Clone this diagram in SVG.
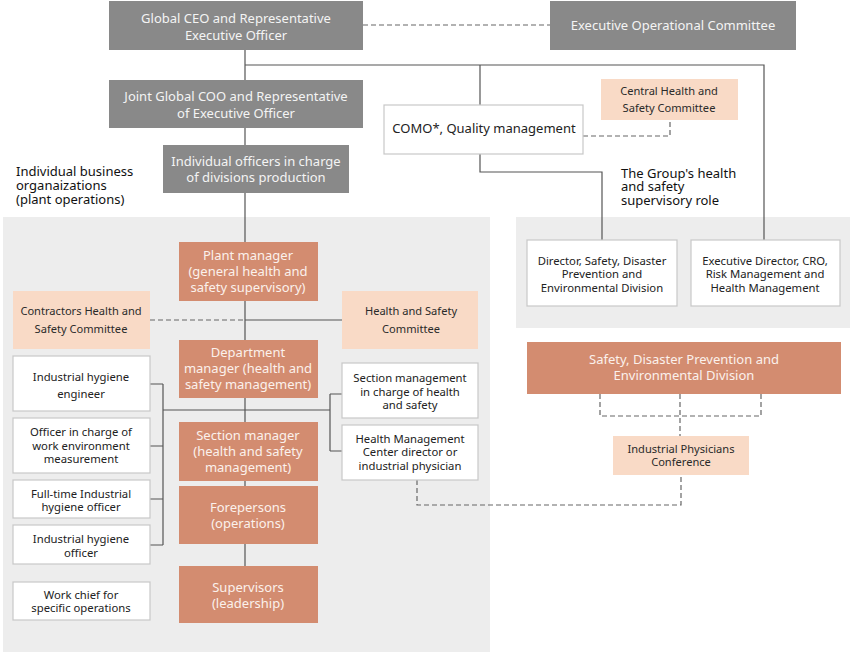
<svg xmlns="http://www.w3.org/2000/svg" width="850" height="652" viewBox="0 0 850 652">
<style>
text{font-family:"Noto Sans","DejaVu Sans",sans-serif;font-size:12.5px;text-anchor:middle}
.g rect{fill:#898989}
.g text{fill:#f4f4f4;font-size:13px}
.s rect{fill:#d38c70}
.s text{fill:#fbf1ec;font-size:13px}
.p rect{fill:#f9dac6}
.p text{fill:#2a2a2a;font-size:11.1px}
.w rect{fill:#fff;stroke:#c8c8c8;stroke-width:1.2}
.w text{fill:#222;font-size:11.3px}
.lbl{fill:#111;font-size:13px;text-anchor:start}
.ln{fill:none;stroke:#555;stroke-width:1.2}
.dl{fill:none;stroke:#666;stroke-width:1.2;stroke-dasharray:5,3}
</style>
<rect x="3" y="217" width="487" height="435" fill="#ededed"/>
<rect x="516" y="217" width="334" height="111" fill="#ededed"/>
<g id="connectors">
<path class="dl" d="M363 25H550"/>
<path class="ln" d="M245 50V80M245 128V145M245 193V242M245 65H764V240M480 65V105M480 154V172H602V240"/>
<path class="dl" d="M583 136H670V120"/>
<path class="ln" d="M245 301V340M245 320H342M245 398V422M245 481V486M245 544V566"/>
<path class="dl" d="M150 320H245"/>
<path class="ln" d="M150 384H163M150 446H163M150 499H163M150 545H163M163 384V545M163 410H330M330 394V451M330 394H342M330 451H342"/>
<path class="dl" d="M417 480V505H681V475M600 394V416H761V394M680 394V436"/>
</g>
<g id="ceo" class="g"><rect x="109" y="1" width="254" height="49"/><text x="236" y="23">Global CEO and Representative</text><text x="236" y="40">Executive Officer</text></g>
<g id="eoc" class="g"><rect x="550" y="1" width="246" height="49"/><text x="673" y="30">Executive Operational Committee</text></g>
<g id="coo" class="g"><rect x="109" y="80" width="254" height="48"/><text x="236" y="101">Joint Global COO and Representative</text><text x="236" y="118">of Executive Officer</text></g>
<g id="officers" class="g"><rect x="163" y="145" width="186" height="48"/><text x="256" y="166">Individual officers in charge</text><text x="256" y="182">of divisions production</text></g>
<g id="como" class="w"><rect x="384" y="105" width="199" height="49"/><text x="484" y="133" style="font-size:13px">COMO*, Quality management</text></g>
<g id="central" class="p"><rect x="601" y="79" width="137" height="41"/><text x="669" y="95">Central Health and</text><text x="669" y="112">Safety Committee</text></g>
<text class="lbl" x="621" y="178">The Group's health</text>
<text class="lbl" x="621" y="191">and safety</text>
<text class="lbl" x="621" y="205">supervisory role</text>
<text class="lbl" x="16" y="176">Individual business</text>
<text class="lbl" x="16" y="190">organaizations</text>
<text class="lbl" x="16" y="204">(plant operations)</text>
<g id="director" class="w"><rect x="527" y="240" width="150" height="66"/><text x="602" y="265">Director, Safety, Disaster</text><text x="602" y="278">Prevention and</text><text x="602" y="292">Environmental Division</text></g>
<g id="cro" class="w"><rect x="691" y="240" width="149" height="66"/><text x="765" y="265">Executive Director, CRO,</text><text x="765" y="278">Risk Management and</text><text x="765" y="292">Health Management</text></g>
<g id="plant" class="s"><rect x="179" y="242" width="139" height="59"/><text x="248" y="260">Plant manager</text><text x="248" y="276">(general health and</text><text x="248" y="292">safety supervisory)</text></g>
<g id="contractors" class="p"><rect x="13" y="291" width="137" height="58"/><text x="81" y="315">Contractors Health and</text><text x="81" y="333">Safety Committee</text></g>
<g id="hsc" class="p"><rect x="342" y="291" width="136" height="58"/><text x="411" y="315">Health and Safety</text><text x="411" y="333">Committee</text></g>
<g id="dept" class="s"><rect x="179" y="340" width="139" height="58"/><text x="248" y="357">Department</text><text x="248" y="373">manager (health and</text><text x="248" y="389">safety management)</text></g>
<g id="section" class="s"><rect x="179" y="422" width="139" height="59"/><text x="248" y="440">Section manager</text><text x="248" y="456">(health and safety</text><text x="248" y="472">management)</text></g>
<g id="fore" class="s"><rect x="179" y="486" width="139" height="58"/><text x="248" y="512">Forepersons</text><text x="248" y="528">(operations)</text></g>
<g id="super" class="s"><rect x="179" y="566" width="139" height="57"/><text x="248" y="592">Supervisors</text><text x="248" y="608">(leadership)</text></g>
<g id="ihe" class="w"><rect x="13" y="356" width="137" height="55"/><text x="81" y="381">Industrial hygiene</text><text x="81" y="398">engineer</text></g>
<g id="officer" class="w"><rect x="13" y="418" width="137" height="55"/><text x="81" y="436">Officer in charge of</text><text x="81" y="450">work environment</text><text x="81" y="463">measurement</text></g>
<g id="fulltime" class="w"><rect x="13" y="480" width="137" height="38"/><text x="81" y="498">Full-time Industrial</text><text x="81" y="511">hygiene officer</text></g>
<g id="iho" class="w"><rect x="13" y="525" width="137" height="39"/><text x="81" y="543">Industrial hygiene</text><text x="81" y="557">officer</text></g>
<g id="chief" class="w"><rect x="13" y="582" width="137" height="38"/><text x="81" y="599">Work chief for</text><text x="81" y="612">specific operations</text></g>
<g id="secmgmt" class="w"><rect x="342" y="363" width="136" height="55"/><text x="410" y="382">Section management</text><text x="410" y="396">in charge of health</text><text x="410" y="409">and safety</text></g>
<g id="hmc" class="w"><rect x="342" y="425" width="136" height="55"/><text x="410" y="443">Health Management</text><text x="410" y="456">Center director or</text><text x="410" y="470">industrial physician</text></g>
<g id="sdped" class="s"><rect x="527" y="342" width="314" height="52"/><text x="684" y="364">Safety, Disaster Prevention and</text><text x="684" y="380">Environmental Division</text></g>
<g id="ipc" class="p"><rect x="613" y="436" width="136" height="39"/><text x="681" y="453">Industrial Physicians</text><text x="681" y="466">Conference</text></g>
</svg>
